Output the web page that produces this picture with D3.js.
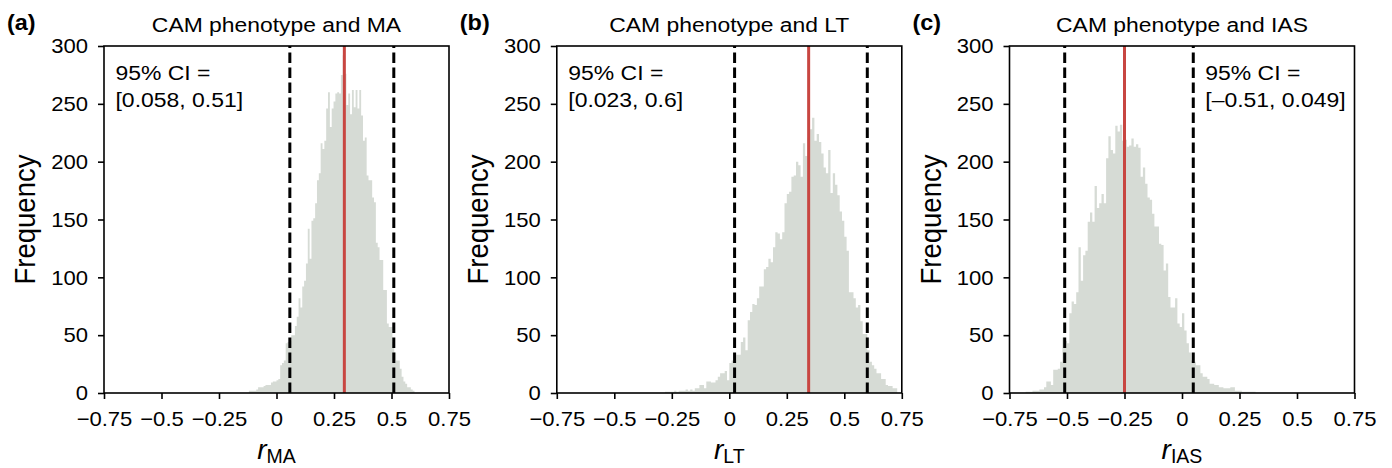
<!DOCTYPE html>
<html>
<head>
<meta charset="utf-8">
<script src="https://cdn.jsdelivr.net/npm/d3@7"></script>
<style>
    body { margin: 0; background: #fff; }
    svg { display: block; font-family: "Liberation Sans", Arial, sans-serif; }
</style>
</head>
<body>
<svg id="canvas"></svg>
<script>
// values
const panelLetters = ["(a)", "(b)", "(c)"];
const panelTitles = ["CAM phenotype and MA", "CAM phenotype and LT", "CAM phenotype and IAS"];
const variableNames = ["MA", "LT", "IAS"];
const binStarts = [-0.12, -0.28, -0.68];
const binWidths = [0.008, 0.01, 0.01];

const maCounts = [2, 2, 2, 2, 3, 5, 5, 5, 6, 7, 7, 7, 9, 10, 10, 11, 12, 24, 26, 28,
    43, 44, 45, 50, 50, 58, 66, 82, 74, 92, 97, 112, 142, 116, 149, 151, 164, 184, 190, 216,
    211, 218, 246, 260, 230, 246, 252, 259, 260, 259, 275, 292, 276, 249, 259, 241, 262, 247, 262, 246,
    262, 240, 218, 221, 188, 184, 184, 169, 165, 130, 126, 115, 115, 89, 89, 60, 57, 57, 44, 35,
    28, 28, 21, 14, 10, 8, 5, 5, 3, 2];
const ltCounts = [1, 1, 1, 1, 2, 1, 2, 2, 2, 3, 2, 3, 2, 4, 4, 7, 7, 4, 10, 10,
    9, 9, 11, 14, 17, 17, 19, 11, 26, 28, 28, 33, 33, 44, 48, 37, 63, 70, 77, 76,
    82, 92, 92, 107, 109, 116, 113, 126, 139, 138, 133, 139, 164, 172, 174, 187, 188, 200, 197, 187,
    216, 205, 221, 228, 238, 218, 224, 217, 207, 195, 190, 210, 173, 190, 180, 171, 157, 149, 135, 123,
    87, 87, 82, 74, 76, 62, 51, 51, 37, 27, 24, 21, 17, 17, 12, 12, 7, 6, 6, 4, 4];
const iasCounts = [1, 1, 1, 2, 2, 2, 3, 3, 5, 10, 10, 7, 20, 20, 21, 27, 48, 45, 43, 69,
    79, 77, 87, 126, 97, 119, 123, 148, 156, 148, 179, 160, 164, 172, 164, 203, 222, 210, 207, 231,
    226, 232, 218, 219, 213, 214, 220, 213, 215, 212, 187, 195, 181, 169, 167, 155, 144, 144, 129, 128,
    106, 112, 83, 74, 74, 82, 60, 57, 69, 54, 43, 35, 28, 27, 24, 24, 17, 14, 14, 12,
    8, 8, 7, 7, 5, 5, 4, 4, 4, 5, 5, 2, 2, 2, 1, 1, 1, 1, 1, 1, 0];
const allCounts = [maCounts, ltCounts, iasCounts];

const observedR = [0.295, 0.345, -0.25];
const ciLower = [0.058, 0.023, -0.51];
const ciUpper = [0.51, 0.6, 0.049];
const ciLabels = ["[0.058, 0.51]", "[0.023, 0.6]", "[\u20130.51, 0.049]"];

const xTicks = [-0.75, -0.5, -0.25, 0, 0.25, 0.5, 0.75];
const yTicks = [0, 50, 100, 150, 200, 250, 300];

const width = 1392;
const height = 468;
const panelLefts = [104, 556.8, 1009.5];
const plotWidth = 345;
const plotTop = 46;
const plotBottom = 393;
// the original figure is a little wider than tall, so the lettering is stretched sideways
const textStretch = 1.09;

const svg = d3.select("#canvas")
    .attr("width", width)
    .attr("height", height);

const fmtTick = (v) => (v < 0 ? "\u2212" : "") + String(Math.abs(v));

for (let p = 0; p < 3; p++) {
    renderPanel(p);
}

// text placed at (x, y) and widened horizontally
function addText(parent, x, y, size, k) {
    return parent.append("text")
        .attr("transform", `translate(${x}, ${y}) scale(${k}, 1)`)
        .style("font-size", size + "px");
}

function renderPanel(p) {
    const left = panelLefts[p];
    const root = svg.append("g").attr("class", "panel");

    const scaleX = d3.scaleLinear().domain([-0.75, 0.75]).range([left, left + plotWidth]);
    const scaleY = d3.scaleLinear().domain([0, 300]).range([plotBottom, plotTop]);

    // histogram as one stepped outline so adjacent bars do not show seams
    const counts = allCounts[p];
    const start = binStarts[p];
    const w = binWidths[p];
    let d = `M${scaleX(start)},${scaleY(0)}`;
    counts.forEach((c, i) => {
        d += `V${scaleY(c)}H${scaleX(start + (i + 1) * w)}`;
    });
    d += `V${scaleY(0)}Z`;
    root.append("path")
        .attr("d", d)
        .attr("fill", "#d6dbd5");

    root.append("line")
        .attr("x1", scaleX(observedR[p])).attr("x2", scaleX(observedR[p]))
        .attr("y1", scaleY(0)).attr("y2", scaleY(300))
        .attr("stroke", "#c84641")
        .attr("stroke-width", 3);

    [ciLower[p], ciUpper[p]].forEach((v) => {
        root.append("line")
            .attr("x1", scaleX(v)).attr("x2", scaleX(v))
            .attr("y1", scaleY(0)).attr("y2", scaleY(300))
            .attr("stroke", "#000")
            .attr("stroke-width", 3)
            .attr("stroke-dasharray", "10.5,4.5");
    });

    // frame
    root.append("rect")
        .attr("x", left).attr("y", plotTop)
        .attr("width", plotWidth).attr("height", plotBottom - plotTop)
        .attr("fill", "none")
        .attr("stroke", "#000")
        .attr("stroke-width", 1.6);

    const axisX = root.append("g")
        .attr("transform", `translate(0, ${plotBottom})`)
        .call(d3.axisBottom(scaleX).tickValues(xTicks).tickFormat(fmtTick)
            .tickSize(6).tickPadding(12).tickSizeOuter(0));
    const axisY = root.append("g")
        .attr("transform", `translate(${left}, 0)`)
        .call(d3.axisLeft(scaleY).tickValues(yTicks)
            .tickSize(6).tickPadding(10).tickSizeOuter(0));
    [axisX, axisY].forEach((g) => {
        g.select(".domain").remove();
        g.selectAll(".tick line").attr("stroke", "#000").attr("stroke-width", 1.6);
        g.selectAll(".tick text")
            .attr("fill", "#000")
            .style("font-size", "21px")
            .style("font-family", "'Liberation Sans', Arial, sans-serif");
    });
    axisX.selectAll(".tick text").attr("transform", "scale(1.05, 1)");
    axisY.selectAll(".tick text")
        .attr("x", -16 / 1.05)
        .attr("transform", "scale(1.05, 1)");

    // titles and labels
    addText(root, left + plotWidth / 2, 31.5, 21, textStretch)
        .attr("text-anchor", "middle")
        .text(panelTitles[p]);

    addText(root, left - 97, 29.5, 21.5, textStretch)
        .style("font-weight", "bold")
        .text(panelLetters[p]);

    root.append("text")
        .attr("transform", `translate(${left - 69}, ${(plotTop + plotBottom) / 2}) scale(${textStretch}, 1) rotate(-90)`)
        .attr("text-anchor", "middle")
        .style("font-size", "27.5px")
        .text("Frequency");

    const xLabel = root.append("text")
        .attr("x", left + plotWidth / 2).attr("y", 459)
        .attr("text-anchor", "middle")
        .style("font-size", "28px");
    xLabel.append("tspan").style("font-style", "italic").text("r");
    xLabel.append("tspan").attr("dy", 4).style("font-size", "19.5px").text(variableNames[p]);

    const ciX = p === 2 ? scaleX(ciUpper[p]) + 12 : left + 11.5;
    const ci = addText(root, ciX, 79.5, 20.5, 1.12);
    ci.append("tspan").attr("x", 0).text("95% CI =");
    ci.append("tspan").attr("x", 0).attr("dy", 28).text(ciLabels[p]);
}
</script>
</body>
</html>
